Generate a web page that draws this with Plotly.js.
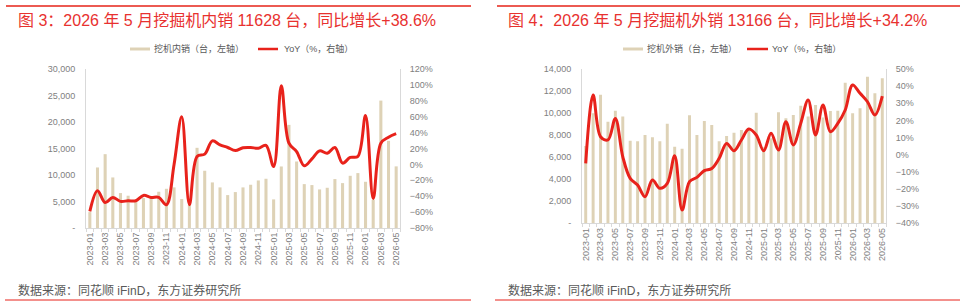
<!DOCTYPE html>
<html>
<head>
<meta charset="utf-8">
<script src="https://cdn.plot.ly/plotly-3.0.1.min.js"></script>
<style>
html,body{margin:0;padding:0;background:#fff;}
#chart{width:960px;height:308px;}
</style>
</head>
<body>
<div id="chart"></div>
<script>
// ---- data ----
const months = ['2023-01','2023-02','2023-03','2023-04','2023-05','2023-06','2023-07','2023-08','2023-09','2023-10','2023-11','2023-12',
  '2024-01','2024-02','2024-03','2024-04','2024-05','2024-06','2024-07','2024-08','2024-09','2024-10','2024-11','2024-12',
  '2025-01','2025-02','2025-03','2025-04','2025-05','2025-06','2025-07','2025-08','2025-09','2025-10','2025-11','2025-12',
  '2026-01','2026-02','2026-03','2026-04','2026-05'];
const monthLabels = ['2023-01','','2023-03','','2023-05','','2023-07','','2023-09','','2023-11','',
  '2024-01','','2024-03','','2024-05','','2024-07','','2024-09','','2024-11','',
  '2025-01','','2025-03','','2025-05','','2025-07','','2025-09','','2025-11','',
  '2026-01','','2026-03','','2026-05'];

const domesticSales = [3000, 11420, 13930, 9540, 6590, 6090, 5300, 5650, 5840, 6840, 7400, 7660,
  5460, 4400, 15130, 10800, 8600, 7660, 6210, 6780, 7660, 8160, 8970, 9290,
  5400, 11610, 19460, 12550, 8280, 8100, 7280, 7590, 9230, 8470, 9850, 10360,
  8720, 5300, 24040, 16440, 11628];
const domesticYoY = [-59, -33, -48, -41.5, -46.5, -45.7, -45.7, -39, -41.5, -41.5, -50.7, 0,
  60, -50.7, 10, 12.9, 29.6, 24.6, 21.3, 17.5, 21, 21.3, 20.4, 23.8,
  -2.6, 99, 26.7, 16.2, -1.8, 7, 17, 14, 21.3, 1.6, 8.7, 10,
  61.4, -43, 26.7, 34.2, 38.6];

const exportSales = [7010, 9980, 11670, 9220, 10220, 9680, 7500, 7440, 8010, 7800, 7440, 9040,
  6950, 6770, 9800, 8010, 9280, 8920, 7440, 7920, 8220, 8470, 8620, 10040,
  6900, 7710, 10070, 9530, 9830, 10670, 9680, 10730, 9590, 10190, 10220, 12760,
  9980, 10430, 13300, 11800, 13166];
const exportYoY = [-5, 34.8, 10.5, 8.6, 21.2, -1.2, -13.8, -17.7, -24.5, -14.8, -19.6, -16.7,
  -0.6, -32.3, -15.7, -13.2, -9.3, -8, -2.1, 6.6, 2.3, 8.6, 15, 11.5,
  2.3, 12.5, 2.7, 19.3, 5.7, 18.3, 31.9, 11.5, 29, 13.4, 18.3, 26.1,
  40.7, 35.8, 30.9, 23.2, 34.2];

const leftTickVals = [0, 5000, 10000, 15000, 20000, 25000, 30000];
const leftTickText = ['-', '5,000', '10,000', '15,000', '20,000', '25,000', '30,000'];
const rightTickVals = [0, 2000, 4000, 6000, 8000, 10000, 12000, 14000];
const rightTickText = ['-', '2,000', '4,000', '6,000', '8,000', '10,000', '12,000', '14,000'];

const title1 = '图 3：2026 年 5 月挖掘机内销 11628 台，同比增长+38.6%';
const title2 = '图 4：2026 年 5 月挖掘机外销 13166 台，同比增长+34.2%';
const sourceText = '数据来源：同花顺 iFinD，东方证券研究所';
const nameDomestic = '挖机内销（台，左轴）';
const nameExport = '挖机外销（台，左轴）';
const nameYoY = 'YoY（%，右轴）';

// ---- styles ----
const FONT = '"Liberation Sans", Arial, "Noto Sans CJK SC", sans-serif';
const BAR = '#DED2B6';
const RED = '#E8221B';
const TICK = '#7F7F7F';
const AXL = '#D9D9D9';
const LEG = '#595959';
const W = 960, H = 308;
const px = v => v / W;
const py = v => 1 - v / H;

const traces = [
  {type:'bar', x:months, y:domesticSales, xaxis:'x', yaxis:'y', name:nameDomestic, marker:{color:BAR}, showlegend:false},
  {type:'scatter', mode:'lines', x:months, y:domesticYoY, xaxis:'x', yaxis:'y2', name:nameYoY, showlegend:false,
   line:{color:RED, width:3, shape:'spline', smoothing:1}},
  {type:'bar', x:months, y:exportSales, xaxis:'x2', yaxis:'y3', name:nameExport, marker:{color:BAR}, showlegend:false},
  {type:'scatter', mode:'lines', x:months, y:exportYoY, xaxis:'x2', yaxis:'y4', name:nameYoY, showlegend:false,
   line:{color:RED, width:3, shape:'spline', smoothing:1}}
];

function xAxis(domain, anchor) {
  return {domain, anchor, type:'category', tickvals:months, ticktext:monthLabels, tickangle:-90,
    tickson:'boundaries', ticks:'outside', ticklen:3, tickcolor:AXL, showline:true, linecolor:AXL, linewidth:1,
    showgrid:false, zeroline:false, tickfont:{family:FONT, size:9, color:TICK}, fixedrange:true};
}
function yLeft(domain, anchor, range, tv, tt) {
  return {domain, anchor, range, tickvals:tv, ticktext:tt, showline:true, linecolor:AXL, showgrid:false,
    zeroline:false, ticks:'', ticklabelstandoff:8, tickfont:{family:FONT, size:9, color:TICK}, fixedrange:true};
}
function yRight(over, anchor, range, dtick) {
  return {overlaying:over, anchor, side:'right', range, dtick, tick0:0, ticksuffix:'%', showline:true, linecolor:AXL,
    showgrid:false, zeroline:false, ticks:'', ticklabelstandoff:7, tickfont:{family:FONT, size:9, color:TICK}, fixedrange:true};
}
function txt(x, y, text, size, color) {
  return {xref:'paper', yref:'paper', x:px(x), y:py(y), xanchor:'left', yanchor:'middle', showarrow:false,
    borderpad:0, text, font:{family:FONT, size, color}};
}
function hline(x0, x1, y, color, width) {
  return {type:'line', xref:'paper', yref:'paper', x0:px(x0), x1:px(x1), y0:py(y), y1:py(y), line:{color, width}};
}

const layout = {
  width:W, height:H, margin:{l:0, r:0, t:0, b:0}, paper_bgcolor:'#fff', plot_bgcolor:'rgba(0,0,0,0)',
  font:{family:FONT}, bargap:0.6, showlegend:false, hovermode:false,
  xaxis: xAxis([px(86), px(400)], 'y'),
  yaxis: yLeft([py(228), py(69)], 'x', [0, 30000], leftTickVals, leftTickText),
  yaxis2: yRight('y', 'x', [-80, 120], 20),
  xaxis2: xAxis([px(582), px(886)], 'y3'),
  yaxis3: yLeft([py(223.3), py(69)], 'x2', [0, 14000], rightTickVals, rightTickText),
  yaxis4: yRight('y3', 'x2', [-40, 50], 10),
  annotations: [
    txt(17, 20, title1, 16, '#E8312F'),
    txt(507, 20, title2, 16, '#E8312F'),
    txt(17, 290.5, sourceText, 12, LEG),
    txt(507, 290.5, sourceText, 12, LEG),
    // legends
    txt(153, 49, nameDomestic, 9, LEG),
    txt(283, 49, nameYoY, 9, LEG),
    txt(646, 49, nameExport, 9, LEG),
    txt(771, 49, nameYoY, 9, LEG)
  ],
  shapes: [
    hline(6, 471, 6, '#EC5A52', 2),
    hline(497, 960, 6, '#EC5A52', 2),
    hline(5, 471, 300, RED, 1),
    hline(495, 960, 300, RED, 1),
    // legend swatches
    hline(130, 150, 49, BAR, 3),
    hline(258, 278, 49, RED, 2.5),
    hline(623, 643, 49, BAR, 3),
    hline(747, 768, 49, RED, 2.5)
  ]
};

Plotly.newPlot('chart', traces, layout, {staticPlot:true, displayModeBar:false});
</script>
</body>
</html>
